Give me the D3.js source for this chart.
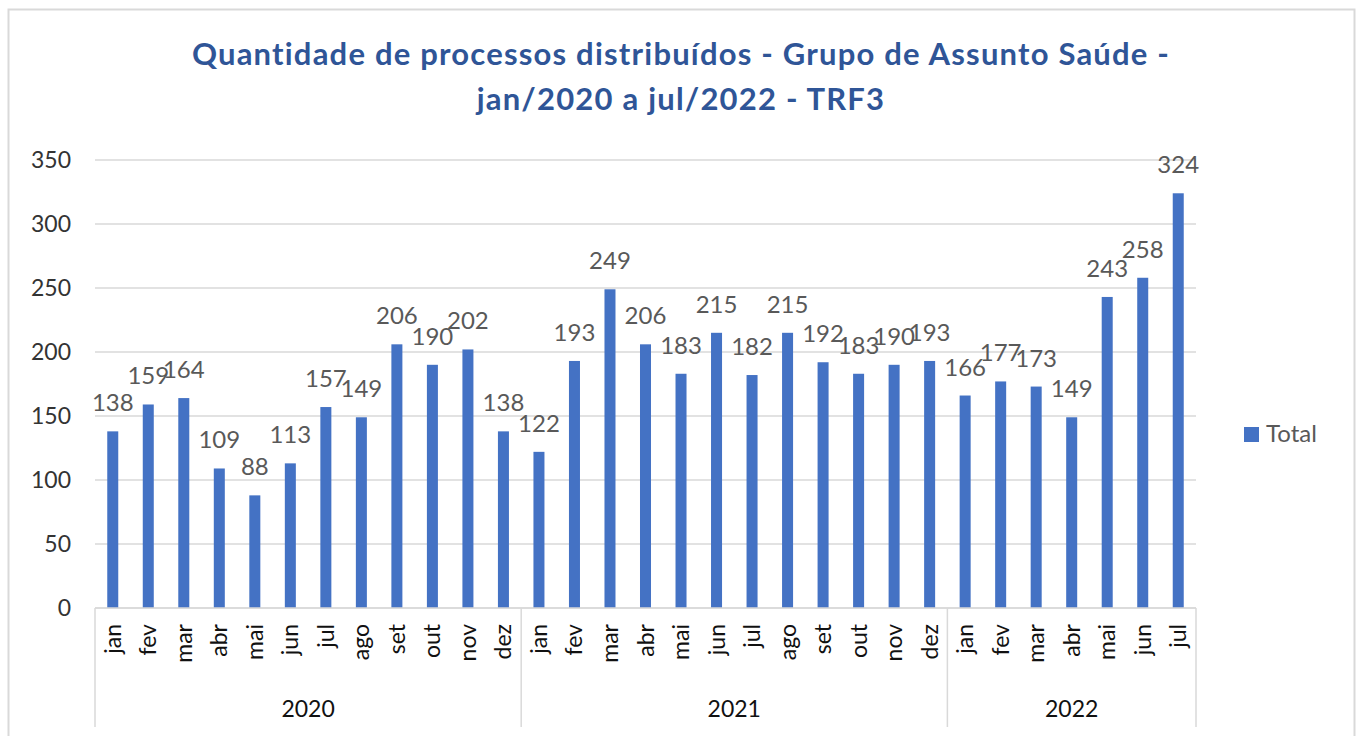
<!DOCTYPE html>
<html>
<head>
<meta charset="utf-8">
<script src="https://cdn.jsdelivr.net/npm/d3@7"></script>
<style>
  body { margin: 0; background: #fff; }
  text { font-family: Lato, "Open Sans", sans-serif; }
</style>
</head>
<body>
<div id="chart"></div>
<script>
// months per year and the distributed cases
var months = ["jan", "fev", "mar", "abr", "mai", "jun", "jul", "ago", "set", "out", "nov", "dez"];
var years = ["2020", "2021", "2022"];
var values2020 = [138, 159, 164, 109, 88, 113, 157, 149, 206, 190, 202, 138];
var values2021 = [122, 193, 249, 206, 183, 215, 182, 215, 192, 183, 190, 193];
var values2022 = [166, 177, 173, 149, 243, 258, 324];
var yTicks = [0, 50, 100, 150, 200, 250, 300, 350];
var titleLines = ["Quantidade de processos distribuídos - Grupo de Assunto Saúde -", "jan/2020 a jul/2022 - TRF3"];
var seriesName = "Total";

var width = 1358, height = 736;
var margin = {top: 160, right: 162, bottom: 128, left: 95};
var innerW = width - margin.left - margin.right,
    innerH = height - margin.top - margin.bottom;

// flatten into one row per month
var data = [];
[values2020, values2021, values2022].forEach(function(vals, i) {
  vals.forEach(function(v, j) {
    data.push({year: years[i], month: months[j], key: years[i] + "-" + months[j], value: v});
  });
});

var svg = d3.select("#chart").append("svg")
    .attr("width", width)
    .attr("height", height);

// outer frame
svg.append("rect")
    .attr("x", 8.5).attr("y", 9.5)
    .attr("width", 1346).attr("height", 740)
    .attr("fill", "none")
    .attr("stroke", "#d9d9d9")
    .attr("stroke-width", 2);

// title
svg.append("text")
    .attr("x", 681).attr("y", 65)
    .attr("text-anchor", "middle")
    .attr("fill", "#2f5597")
    .attr("font-size", 31)
    .attr("font-weight", "bold")
    .attr("letter-spacing", 1.2)
  .selectAll("tspan")
  .data(titleLines)
  .enter().append("tspan")
    .attr("x", 681)
    .attr("dy", function(d, i) { return i ? 45 : 0; })
    .text(function(d) { return d; });

var g = svg.append("g")
    .attr("transform", "translate(" + margin.left + "," + margin.top + ")");

var x = d3.scaleBand()
    .domain(data.map(function(d) { return d.key; }))
    .range([0, innerW])
    .paddingInner(0.69)
    .paddingOuter(0.345);

var y = d3.scaleLinear().domain([0, 350]).range([innerH, 0]);

// gridlines
g.append("g")
  .selectAll("line")
  .data(yTicks)
  .enter().append("line")
    .attr("x1", 0).attr("x2", innerW)
    .attr("y1", function(d) { return y(d); })
    .attr("y2", function(d) { return y(d); })
    .attr("stroke", "#d9d9d9")
    .attr("stroke-width", 1.5);

// y axis labels
var yAxis = g.append("g")
    .call(d3.axisLeft(y).tickValues(yTicks).tickSize(0).tickPadding(24));
yAxis.select(".domain").remove();
yAxis.selectAll("text")
    .attr("font-size", 23)
    .attr("fill", "#333")
    .style("font-family", "Lato, sans-serif");

// bars
g.selectAll(".bar")
  .data(data)
  .enter().append("rect")
    .attr("class", "bar")
    .attr("x", function(d) { return x(d.key); })
    .attr("y", function(d) { return y(d.value); })
    .attr("width", x.bandwidth())
    .attr("height", function(d) { return innerH - y(d.value); })
    .attr("fill", "#4472c4");

// value labels
g.selectAll(".lbl")
  .data(data)
  .enter().append("text")
    .attr("class", "lbl")
    .attr("x", function(d) { return x(d.key) + x.bandwidth() / 2; })
    .attr("y", function(d) { return y(d.value) - 20; })
    .attr("text-anchor", "middle")
    .attr("font-size", 24)
    .attr("fill", "#595959")
    .text(function(d) { return d.value; });

// category axis: month labels rotated
var step = x.step();
g.selectAll(".mon")
  .data(data)
  .enter().append("text")
    .attr("class", "mon")
    .attr("transform", function(d) {
      return "translate(" + (x(d.key) + x.bandwidth() / 2 + 8) + "," + (innerH + 16) + ") rotate(-90)";
    })
    .attr("text-anchor", "end")
    .attr("font-size", 23)
    .attr("fill", "#111")
    .text(function(d) { return d.month; });

// axis line and year group dividers
g.append("line")
    .attr("x1", 0).attr("x2", innerW)
    .attr("y1", innerH).attr("y2", innerH)
    .attr("stroke", "#d9d9d9").attr("stroke-width", 1.5);

var groups = years.map(function(yr) {
  var keys = data.filter(function(d) { return d.year === yr; }).map(function(d) { return d.key; });
  return {year: yr, first: keys[0], last: keys[keys.length - 1]};
});
function bandStart(key) { return x(key) - (step - x.bandwidth()) / 2; }
function bandEnd(key) { return x(key) + x.bandwidth() + (step - x.bandwidth()) / 2; }

var divX = [0].concat(groups.map(function(d) { return bandEnd(d.last); }));
g.selectAll(".div")
  .data(divX)
  .enter().append("line")
    .attr("x1", function(d) { return d; }).attr("x2", function(d) { return d; })
    .attr("y1", innerH).attr("y2", innerH + 119)
    .attr("stroke", "#d9d9d9").attr("stroke-width", 1.5);

g.selectAll(".yr")
  .data(groups)
  .enter().append("text")
    .attr("x", function(d) { return (bandStart(d.first) + bandEnd(d.last)) / 2; })
    .attr("y", innerH + 109)
    .attr("text-anchor", "middle")
    .attr("font-size", 23)
    .attr("fill", "#111")
    .text(function(d) { return d.year; });

// legend
var leg = svg.append("g").attr("transform", "translate(1244,427)");
leg.append("rect").attr("width", 15).attr("height", 15).attr("fill", "#4472c4");
leg.append("text")
    .attr("x", 22).attr("y", 15)
    .attr("font-size", 24)
    .attr("fill", "#595959")
    .text(seriesName);
</script>
</body>
</html>
